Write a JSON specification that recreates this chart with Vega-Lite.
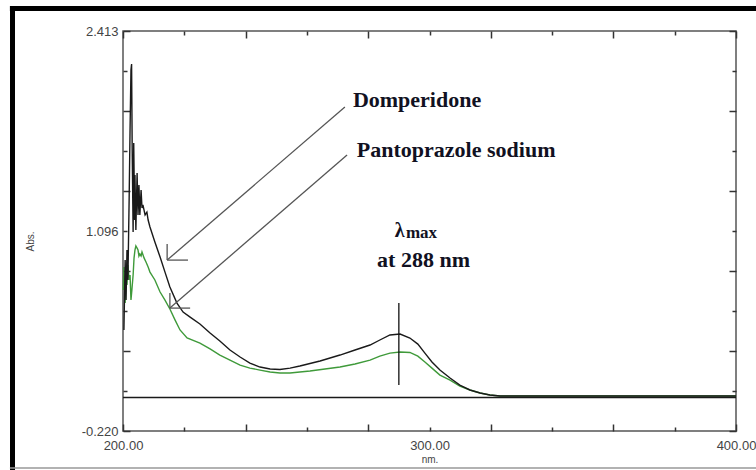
{
  "$schema": "https://vega.github.io/schema/vega-lite/v6.json",
  "width": 613,
  "height": 400,
  "autosize": "none",
  "padding": {"left": 123, "top": 31, "right": 20, "bottom": 39},
  "background": "white",
  "config": {
    "view": {"stroke": "#555555", "strokeWidth": 1.5},
    "axis": {"labelFont": "Liberation Sans", "titleFont": "Liberation Sans", "grid": false, "domain": false}
  },
  "datasets": {
    "one": [{"k": 1}],
    "dom": [
      {"nm": 200.3, "abs": 0.445}, {"nm": 200.7, "abs": 0.905}, {"nm": 201.0, "abs": 0.642}, {"nm": 201.3, "abs": 0.971},
      {"nm": 201.6, "abs": 0.774}, {"nm": 202.0, "abs": 1.3}, {"nm": 202.3, "abs": 1.761}, {"nm": 202.6, "abs": 2.156},
      {"nm": 202.8, "abs": 2.196}, {"nm": 203.0, "abs": 1.63}, {"nm": 203.3, "abs": 1.09}, {"nm": 203.5, "abs": 1.676},
      {"nm": 203.8, "abs": 1.169}, {"nm": 203.9, "abs": 1.465}, {"nm": 204.2, "abs": 1.103}, {"nm": 204.6, "abs": 1.478},
      {"nm": 204.9, "abs": 1.202}, {"nm": 205.2, "abs": 1.399}, {"nm": 205.5, "abs": 1.202}, {"nm": 205.9, "abs": 1.366},
      {"nm": 206.2, "abs": 1.248}, {"nm": 206.5, "abs": 1.268}, {"nm": 207.2, "abs": 1.202}, {"nm": 207.8, "abs": 1.221},
      {"nm": 208.2, "abs": 1.169}, {"nm": 208.8, "abs": 1.123}, {"nm": 210.4, "abs": 1.024}, {"nm": 212.1, "abs": 0.925},
      {"nm": 213.7, "abs": 0.826}, {"nm": 215.3, "abs": 0.728}, {"nm": 217.6, "abs": 0.622}, {"nm": 219.6, "abs": 0.563},
      {"nm": 221.9, "abs": 0.53}, {"nm": 225.1, "abs": 0.484}, {"nm": 228.4, "abs": 0.425}, {"nm": 231.6, "abs": 0.372},
      {"nm": 234.9, "abs": 0.313}, {"nm": 238.2, "abs": 0.267}, {"nm": 241.4, "abs": 0.227}, {"nm": 244.7, "abs": 0.201},
      {"nm": 248.0, "abs": 0.188}, {"nm": 251.2, "abs": 0.185}, {"nm": 254.5, "abs": 0.194}, {"nm": 257.7, "abs": 0.208},
      {"nm": 264.3, "abs": 0.241}, {"nm": 270.8, "abs": 0.28}, {"nm": 275.7, "abs": 0.313}, {"nm": 280.6, "abs": 0.346},
      {"nm": 283.8, "abs": 0.379}, {"nm": 287.1, "abs": 0.412}, {"nm": 290.4, "abs": 0.418}, {"nm": 293.6, "abs": 0.392},
      {"nm": 296.2, "abs": 0.352}, {"nm": 298.5, "abs": 0.293}, {"nm": 300.8, "abs": 0.234}, {"nm": 303.4, "abs": 0.181},
      {"nm": 306.7, "abs": 0.129}, {"nm": 309.9, "abs": 0.082}, {"nm": 313.2, "abs": 0.05}, {"nm": 316.5, "abs": 0.03},
      {"nm": 319.7, "abs": 0.017}, {"nm": 323.0, "abs": 0.01}, {"nm": 400.0, "abs": 0.01}
    ],
    "pan": [
      {"nm": 200.1, "abs": 0.708}, {"nm": 200.3, "abs": 0.859}, {"nm": 200.7, "abs": 0.622}, {"nm": 201.0, "abs": 0.807},
      {"nm": 201.3, "abs": 0.741}, {"nm": 201.6, "abs": 0.873}, {"nm": 202.0, "abs": 0.774}, {"nm": 202.3, "abs": 0.807},
      {"nm": 202.6, "abs": 0.642}, {"nm": 202.9, "abs": 0.708}, {"nm": 203.3, "abs": 0.807}, {"nm": 203.6, "abs": 0.918},
      {"nm": 203.9, "abs": 0.971}, {"nm": 204.2, "abs": 0.998}, {"nm": 204.6, "abs": 0.984}, {"nm": 204.9, "abs": 0.971},
      {"nm": 205.2, "abs": 0.932}, {"nm": 205.5, "abs": 0.945}, {"nm": 205.9, "abs": 0.932}, {"nm": 206.2, "abs": 0.958},
      {"nm": 206.9, "abs": 0.918}, {"nm": 207.5, "abs": 0.892}, {"nm": 208.2, "abs": 0.859}, {"nm": 208.8, "abs": 0.826},
      {"nm": 210.4, "abs": 0.774}, {"nm": 212.1, "abs": 0.695}, {"nm": 213.7, "abs": 0.642}, {"nm": 215.3, "abs": 0.583},
      {"nm": 217.0, "abs": 0.51}, {"nm": 218.6, "abs": 0.445}, {"nm": 220.9, "abs": 0.392}, {"nm": 225.1, "abs": 0.359},
      {"nm": 228.4, "abs": 0.32}, {"nm": 231.6, "abs": 0.28}, {"nm": 234.9, "abs": 0.247}, {"nm": 238.2, "abs": 0.214},
      {"nm": 241.4, "abs": 0.194}, {"nm": 244.7, "abs": 0.181}, {"nm": 248.0, "abs": 0.168}, {"nm": 251.2, "abs": 0.162},
      {"nm": 254.5, "abs": 0.162}, {"nm": 257.7, "abs": 0.168}, {"nm": 261.0, "abs": 0.175}, {"nm": 265.9, "abs": 0.188},
      {"nm": 270.8, "abs": 0.201}, {"nm": 275.7, "abs": 0.221}, {"nm": 280.6, "abs": 0.247}, {"nm": 283.8, "abs": 0.273},
      {"nm": 287.1, "abs": 0.293}, {"nm": 290.4, "abs": 0.3}, {"nm": 293.6, "abs": 0.297}, {"nm": 296.2, "abs": 0.273},
      {"nm": 298.5, "abs": 0.234}, {"nm": 300.8, "abs": 0.194}, {"nm": 303.4, "abs": 0.148}, {"nm": 306.7, "abs": 0.115},
      {"nm": 309.9, "abs": 0.076}, {"nm": 313.2, "abs": 0.05}, {"nm": 316.5, "abs": 0.03}, {"nm": 319.7, "abs": 0.017},
      {"nm": 323.0, "abs": 0.01}, {"nm": 400.0, "abs": 0.01}
    ],
    "arrows": [
      {"nm": 272.4, "abs": 1.913, "nm2": 214.4, "abs2": 0.905},
      {"nm": 214.4, "abs": 0.905, "nm2": 214.4, "abs2": 1.011},
      {"nm": 214.4, "abs": 0.905, "nm2": 221.2, "abs2": 0.905},
      {"nm": 273.1, "abs": 1.597, "nm2": 215.3, "abs2": 0.589},
      {"nm": 215.3, "abs": 0.589, "nm2": 215.3, "abs2": 0.688},
      {"nm": 215.3, "abs": 0.589, "nm2": 221.9, "abs2": 0.589}
    ],
    "bigText": [
      {"nm": 275.0, "abs": 1.913, "text": "Domperidone"},
      {"nm": 276.3, "abs": 1.584, "text": "Pantoprazole sodium"},
      {"nm": 282.9, "abs": 0.859, "text": "at 288 nm"}
    ],
    "lambda": [{"nm": 288.7, "abs": 1.057, "text": "λ"}],
    "maxText": [{"nm": 292.3, "abs": 1.05, "text": "max"}]
  },
  "resolve": {"axis": {"x": "independent", "y": "independent"}},
  "layer": [
    {
      "data": {"name": "pan"},
      "mark": {"type": "line", "color": "#3f9a3a", "strokeWidth": 1.4},
      "encoding": {
        "x": {"field": "nm", "type": "quantitative", "scale": {"domain": [200, 400], "nice": false, "zero": false},
          "axis": {"orient": "bottom", "title": "nm.", "values": [200, 300, 400], "format": ".2f", "ticks": false,
            "labelFontSize": 13, "labelColor": "#444444", "labelPadding": 8, "labelFlush": false,
            "titleFontSize": 10, "titleFontWeight": "normal", "titleColor": "#444444", "titlePadding": 2}},
        "y": {"field": "abs", "type": "quantitative", "scale": {"domain": [-0.22, 2.413], "nice": false, "zero": false},
          "axis": {"orient": "left", "title": "Abs.", "values": [-0.22, 1.0965, 2.413], "ticks": false,
            "labelExpr": "datum.value > 2 ? '2.413' : datum.value > 1 ? '1.096' : '-0.220'",
            "labelFontSize": 13, "labelColor": "#444444", "labelPadding": 5,
            "titleFontSize": 10, "titleFontWeight": "normal", "titleColor": "#444444",
            "titleX": -93, "titleY": 210, "titleAlign": "center", "titleBaseline": "middle"}}
      }
    },
    {
      "data": {"name": "dom"},
      "mark": {"type": "line", "color": "#1a1a1a", "strokeWidth": 1.4},
      "encoding": {
        "x": {"field": "nm", "type": "quantitative", "scale": {"domain": [200, 400], "nice": false, "zero": false},
          "axis": {"orient": "bottom", "title": null, "labels": false,
            "values": [200, 220, 240, 260, 280, 300, 320, 340, 360, 380, 400],
            "tickColor": "#333333", "tickWidth": 1.5,
            "tickSize": {"condition": {"test": "datum.value % 40 === 0", "value": -7}, "value": -4}}},
        "y": {"field": "abs", "type": "quantitative", "scale": {"domain": [-0.22, 2.413], "nice": false, "zero": false},
          "axis": {"orient": "left", "title": null, "labels": false,
            "values": [-0.22, 0.0433, 0.3066, 0.5699, 0.8332, 1.0965, 1.3598, 1.6231, 1.8864, 2.1497, 2.413],
            "tickColor": "#333333", "tickWidth": 1.5,
            "tickSize": {"condition": {"test": "abs((2.413 - datum.value) / 0.5266 - round((2.413 - datum.value) / 0.5266)) < 0.02", "value": -7}, "value": -4}}}
      }
    },
    {
      "data": {"name": "one"},
      "mark": {"type": "rule", "color": "#1a1a1a", "strokeWidth": 1.5},
      "encoding": {
        "x": {"datum": 200, "type": "quantitative", "scale": {"domain": [200, 400], "nice": false, "zero": false},
          "axis": {"orient": "top", "title": null, "labels": false,
            "values": [200, 220, 240, 260, 280, 300, 320, 340, 360, 380, 400],
            "tickColor": "#333333", "tickWidth": 1.5,
            "tickSize": {"condition": {"test": "datum.value % 40 === 0", "value": -7}, "value": -4}}},
        "x2": {"datum": 400},
        "y": {"datum": 0, "type": "quantitative", "scale": {"domain": [-0.22, 2.413], "nice": false, "zero": false},
          "axis": {"orient": "right", "title": null, "labels": false,
            "values": [-0.22, 0.0433, 0.3066, 0.5699, 0.8332, 1.0965, 1.3598, 1.6231, 1.8864, 2.1497, 2.413],
            "tickColor": "#333333", "tickWidth": 1.5,
            "tickSize": {"condition": {"test": "abs((2.413 - datum.value) / 0.5266 - round((2.413 - datum.value) / 0.5266)) < 0.02", "value": -7}, "value": -4}}}
      }
    },
    {
      "data": {"name": "one"},
      "mark": {"type": "rule", "color": "#111111", "strokeWidth": 1.3},
      "encoding": {
        "x": {"datum": 290.0, "type": "quantitative", "scale": {"domain": [200, 400], "nice": false, "zero": false}, "axis": null},
        "y": {"datum": 0.082, "type": "quantitative", "scale": {"domain": [-0.22, 2.413], "nice": false, "zero": false}, "axis": null},
        "y2": {"datum": 0.622}
      }
    },
    {
      "data": {"name": "arrows"},
      "mark": {"type": "rule", "color": "#555555", "strokeWidth": 1.3},
      "encoding": {
        "x": {"field": "nm", "type": "quantitative", "scale": {"domain": [200, 400], "nice": false, "zero": false}, "axis": null},
        "x2": {"field": "nm2"},
        "y": {"field": "abs", "type": "quantitative", "scale": {"domain": [-0.22, 2.413], "nice": false, "zero": false}, "axis": null},
        "y2": {"field": "abs2"}
      }
    },
    {
      "data": {"name": "bigText"},
      "mark": {"type": "text", "font": "Liberation Serif", "fontWeight": "bold", "fontSize": 22, "align": "left", "baseline": "alphabetic", "color": "#111122"},
      "encoding": {
        "x": {"field": "nm", "type": "quantitative", "scale": {"domain": [200, 400], "nice": false, "zero": false}, "axis": null},
        "y": {"field": "abs", "type": "quantitative", "scale": {"domain": [-0.22, 2.413], "nice": false, "zero": false}, "axis": null},
        "text": {"field": "text"}
      }
    },
    {
      "data": {"name": "lambda"},
      "mark": {"type": "text", "font": "Liberation Serif", "fontWeight": "bold", "fontSize": 20, "align": "left", "baseline": "alphabetic", "color": "#111122"},
      "encoding": {
        "x": {"field": "nm", "type": "quantitative", "scale": {"domain": [200, 400], "nice": false, "zero": false}, "axis": null},
        "y": {"field": "abs", "type": "quantitative", "scale": {"domain": [-0.22, 2.413], "nice": false, "zero": false}, "axis": null},
        "text": {"field": "text"}
      }
    },
    {
      "data": {"name": "maxText"},
      "mark": {"type": "text", "font": "Liberation Serif", "fontWeight": "bold", "fontSize": 17, "align": "left", "baseline": "alphabetic", "color": "#111122"},
      "encoding": {
        "x": {"field": "nm", "type": "quantitative", "scale": {"domain": [200, 400], "nice": false, "zero": false}, "axis": null},
        "y": {"field": "abs", "type": "quantitative", "scale": {"domain": [-0.22, 2.413], "nice": false, "zero": false}, "axis": null},
        "text": {"field": "text"}
      }
    },
    {
      "data": {"name": "one"},
      "mark": {"type": "rule", "color": "#000000", "strokeWidth": 5},
      "encoding": {
        "x": {"datum": 163.95, "type": "quantitative", "scale": {"domain": [200, 400], "nice": false, "zero": false}, "axis": null},
        "y": {"datum": 2.578, "type": "quantitative", "scale": {"domain": [-0.22, 2.413], "nice": false, "zero": false}, "axis": null},
        "y2": {"datum": -0.48}
      }
    },
    {
      "data": {"name": "one"},
      "mark": {"type": "rule", "color": "#000000", "strokeWidth": 5},
      "encoding": {
        "x": {"datum": 163.1, "type": "quantitative", "scale": {"domain": [200, 400], "nice": false, "zero": false}, "axis": null},
        "x2": {"datum": 408},
        "y": {"datum": 2.561, "type": "quantitative", "scale": {"domain": [-0.22, 2.413], "nice": false, "zero": false}, "axis": null}
      }
    },
    {
      "data": {"name": "one"},
      "mark": {"type": "rule", "color": "#999999", "strokeWidth": 1.5},
      "encoding": {
        "x": {"datum": 163.1, "type": "quantitative", "scale": {"domain": [200, 400], "nice": false, "zero": false}, "axis": null},
        "x2": {"datum": 408},
        "y": {"datum": -0.464, "type": "quantitative", "scale": {"domain": [-0.22, 2.413], "nice": false, "zero": false}, "axis": null}
      }
    }
  ]
}
